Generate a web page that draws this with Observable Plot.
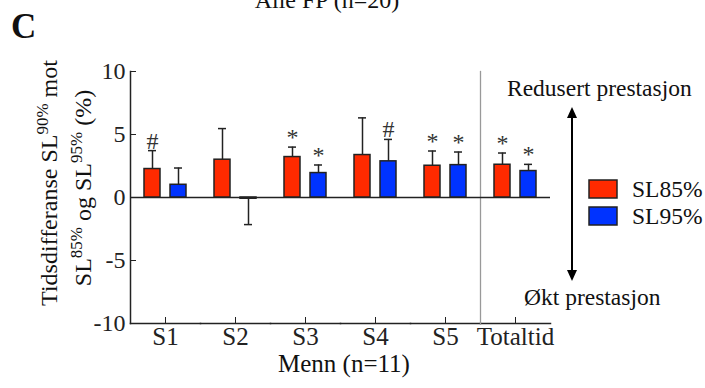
<!DOCTYPE html>
<html><head><meta charset="utf-8">
<script src="https://cdn.jsdelivr.net/npm/d3@7"></script>
<script src="https://cdn.jsdelivr.net/npm/@observablehq/plot@0.6"></script>
<style>
body{margin:0;background:#fff;}
#wrap{position:relative;width:705px;height:388px;overflow:hidden;font-family:"Liberation Serif","Times New Roman",serif;color:#111;}
#wrap svg.overlay{position:absolute;left:0;top:0;pointer-events:none;}
#plot{position:absolute;left:0;top:0;}
</style></head><body><div id="wrap"><div id="plot"></div></div>
<script>
const categories = ["S1", "S2", "S3", "S4", "S5", "Totaltid"];
const seriesNames = ["SL85%", "SL95%"];
const values85 = [2.26, 3.0, 3.21, 3.37, 2.52, 2.6];
const values95 = [1.01, -0.1, 1.94, 2.87, 2.57, 2.1];
const err85 = [1.46, 2.47, 0.79, 2.95, 1.17, 0.93];
const err95 = [1.33, 2.05, 0.64, 1.74, 1.04, 0.53];
const sig85 = ["#", "", "*", "", "*", "*"];
const sig95 = ["", "", "*", "#", "*", "*"];
const yTicks = [-10, -5, 0, 5, 10];
const colors = ["#ff2a00", "#0033ff"];

const rows = [];
categories.forEach((c, i) => {
  [[values85, err85, sig85], [values95, err95, sig95]].forEach(([v, e, s], j) => {
    const value = v[i];
    rows.push({cat: c, series: seriesNames[j], value, end: value + (value < 0 ? -e[i] : e[i]), sig: s[i]});
  });
});

const ink = "#222";
const chart = Plot.plot({
  width: 705, height: 388,
  marginTop: 71, marginBottom: 65, marginLeft: 130, marginRight: 155,
  style: {fontFamily: "Liberation Serif, serif", fontSize: "25px", color: ink, background: "transparent", overflow: "visible"},
  fx: {domain: categories, padding: 0, label: null},
  x: {domain: seriesNames, paddingInner: 0.376, paddingOuter: 0.52, axis: null},
  y: {domain: [-10, 10], label: null},
  color: {domain: seriesNames, range: colors},
  marks: [
    Plot.frame({anchor: "bottom", stroke: ink, strokeWidth: 1.5}),
    Plot.frame({anchor: "left", fx: "S1", stroke: ink, strokeWidth: 1.5}),
    Plot.frame({anchor: "left", fx: "Totaltid", stroke: "#999", strokeWidth: 1.3}),
    Plot.ruleY([0], {stroke: ink, strokeWidth: 1.5}),
    Plot.ruleX(rows, {fx: "cat", x: "series", y1: "value", y2: "end", stroke: ink, strokeWidth: 1.5}),
    Plot.tickY(rows, {fx: "cat", x: "series", y: "end", stroke: ink, strokeWidth: 1.5, insetLeft: 4, insetRight: 4}),
    Plot.barY(rows, {fx: "cat", x: "series", y: "value", fill: "series", stroke: ink, strokeWidth: 1.5}),
    Plot.text(rows.filter(d => d.sig), {fx: "cat", x: "series", y: "end", text: "sig", lineAnchor: "bottom", dy: -2, fontSize: 24, fill: "#333"}),
    Plot.axisY({ticks: yTicks, tickSize: -6, tickPadding: 11, tickFormat: d => String(d), label: null, fontSize: 24}),
    Plot.axisFx({anchor: "bottom", tickSize: -6, tickPadding: 10, label: null, fontSize: 25})
  ]
});
document.getElementById("plot").appendChild(chart);

const ns = "http://www.w3.org/2000/svg";
const overlay = `
<svg class="overlay" xmlns="${ns}" width="705" height="388" font-family="Liberation Serif, serif" fill="#111">
  <text x="327" y="8" font-size="24" text-anchor="middle">Alle FP (n=20)</text>
  <text x="11" y="38" font-size="35" font-weight="bold">C</text>
  <text transform="translate(57,183) rotate(-90)" font-size="24" text-anchor="middle">Tidsdifferanse SL<tspan font-size="17" dy="-9">90%</tspan><tspan dy="9"> mot</tspan></text>
  <text transform="translate(91,188) rotate(-90)" font-size="24" text-anchor="middle">SL<tspan font-size="17" dy="-9">85%</tspan><tspan dy="9"> og SL</tspan><tspan font-size="17" dy="-9">95%</tspan><tspan dy="9"> (%)</tspan></text>
  <text x="344" y="372" font-size="25" text-anchor="middle">Menn (n=11)</text>
  <text x="507" y="96" font-size="23.5">Redusert prestasjon</text>
  <text x="524" y="305" font-size="23.5">Økt prestasjon</text>
  <line x1="572" x2="572" y1="115" y2="273" stroke="#000" stroke-width="2"/>
  <path d="M572,107 L577,118 L567,118 Z" fill="#000"/>
  <path d="M572,281 L577,270 L567,270 Z" fill="#000"/>
  <rect x="589" y="180" width="28" height="18" fill="${colors[0]}" stroke="${ink}" stroke-width="1.5"/>
  <rect x="589" y="207" width="28" height="18" fill="${colors[1]}" stroke="${ink}" stroke-width="1.5"/>
  <text x="632" y="197" font-size="23.5">${seriesNames[0]}</text>
  <text x="632" y="224" font-size="23.5">${seriesNames[1]}</text>
</svg>`;
document.getElementById("wrap").insertAdjacentHTML("beforeend", overlay);
</script>
</body></html>
